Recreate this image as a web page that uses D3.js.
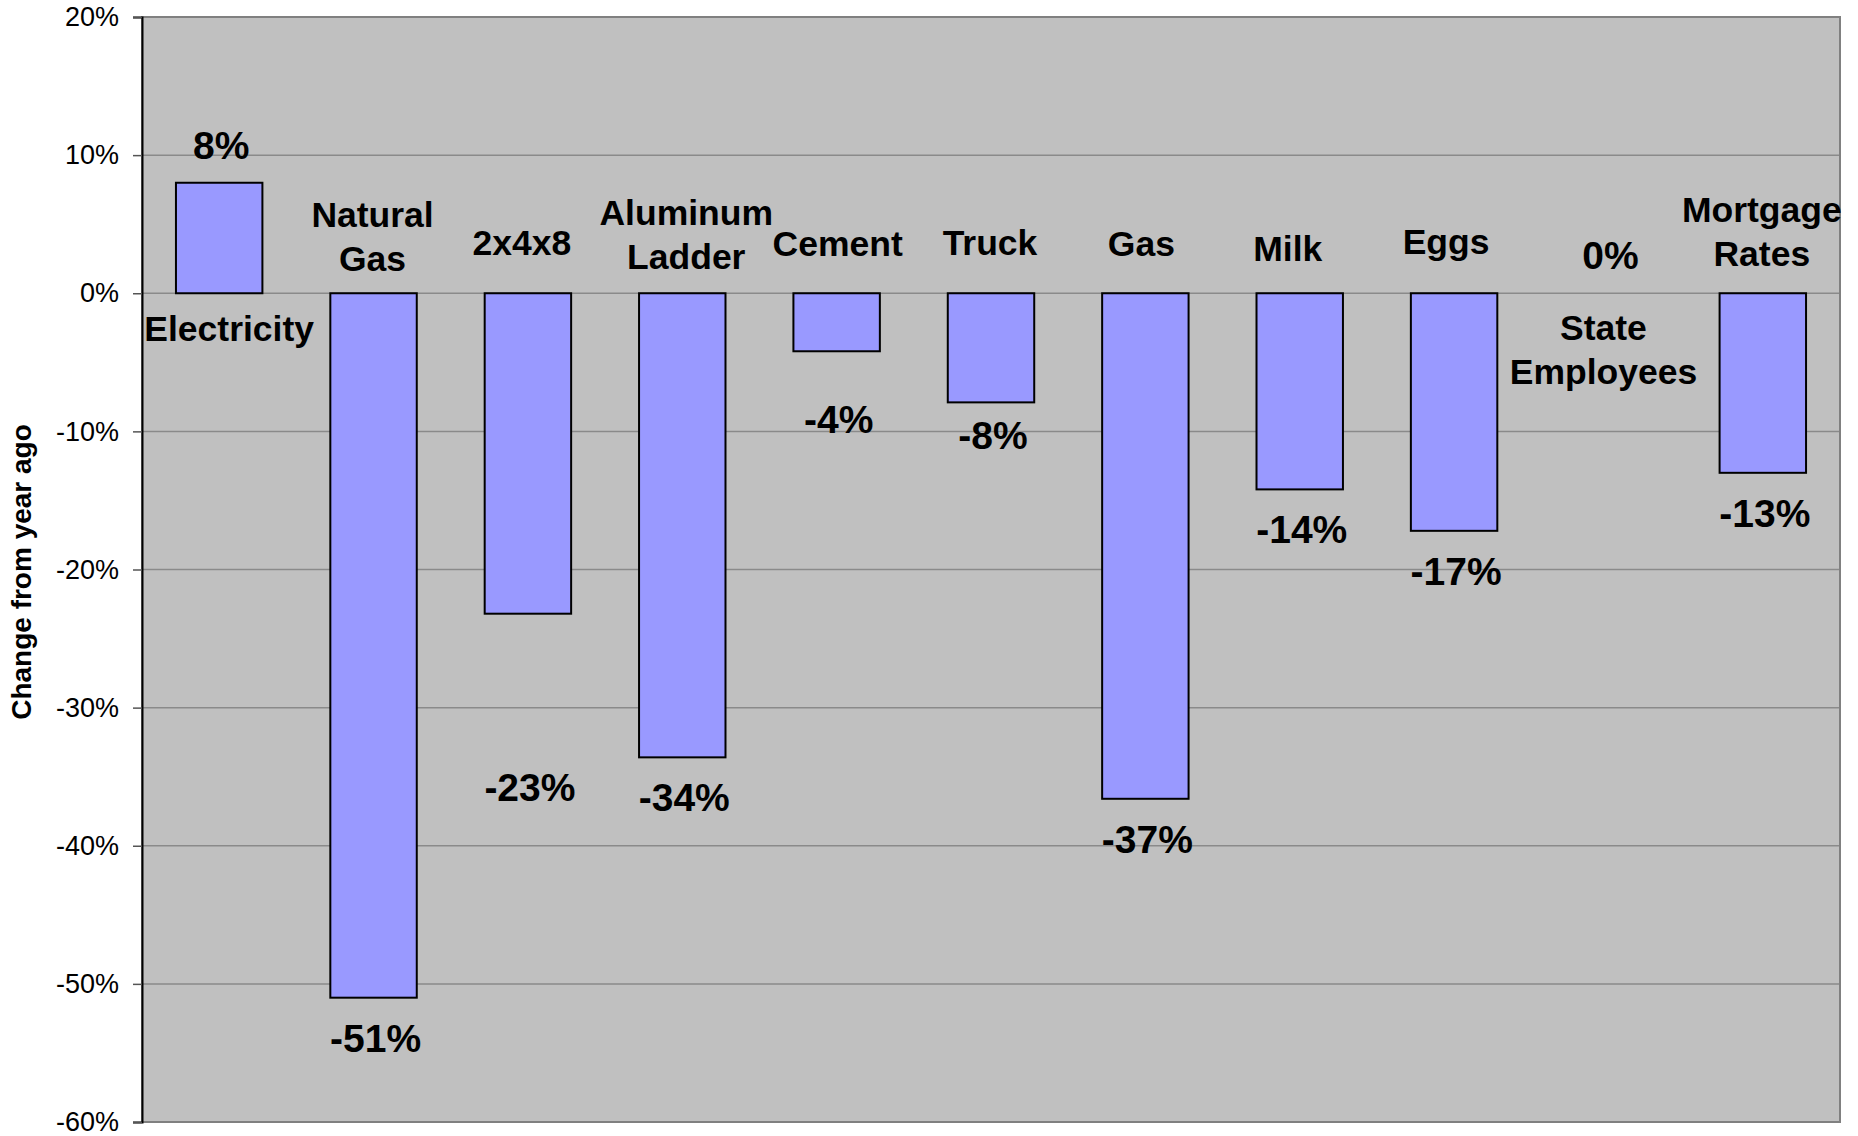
<!DOCTYPE html>
<html>
<head>
<meta charset="utf-8">
<script src="https://cdn.jsdelivr.net/npm/d3@7"></script>
<style>
  html, body { margin: 0; padding: 0; background: #ffffff; }
  svg { display: block; }
  text { font-family: "Liberation Sans", Arial, sans-serif; fill: #000; }
</style>
</head>
<body>
<svg id="chart" width="1858" height="1136"></svg>
<script>
// ---- data ----
const categories = ["Electricity", "Natural\nGas", "2x4x8", "Aluminum\nLadder", "Cement", "Truck", "Gas", "Milk", "Eggs", "State\nEmployees", "Mortgage\nRates"];
const values = [8, -51, -23.2, -33.6, -4.2, -7.9, -36.6, -14.2, -17.2, 0, -13];
const yTicks = [20, 10, 0, -10, -20, -30, -40, -50, -60];
const yTitle = "Change from year ago";

// ---- layout ----
const W = 1858, H = 1136;
const plot = { left: 142, right: 1840, top: 17, bottom: 1122 };
// label nudges (Excel manual placement)
const catDx   = [10, -1, -6, 4, 1, -1, -4, -12, -8, -5, -1];
const catBase = [48, -22, -38, -24, -37, -38, -37, -32, -39, 47, -27]; // baseline offset from zero line
const valDyOverride = { 2: 187, 4: 82, 5: 47 };
const lineGap = 44;

const svg = d3.select("#chart");

const x = d3.scaleBand().domain(categories).range([plot.left, plot.right])
  .paddingInner(0.44).paddingOuter(0.22);
const y = d3.scaleLinear().domain([-60, 20]).range([plot.bottom, plot.top]);

// plot background
svg.append("rect")
  .attr("x", plot.left).attr("y", plot.top)
  .attr("width", plot.right - plot.left).attr("height", plot.bottom - plot.top)
  .attr("fill", "#c0c0c0");

// gridlines
svg.append("g").selectAll("line").data(yTicks).join("line")
  .attr("x1", plot.left).attr("x2", plot.right)
  .attr("y1", d => y(d)).attr("y2", d => y(d))
  .attr("stroke", "#8a8a8a").attr("stroke-width", 1.5);

// plot border (grey)
svg.append("rect")
  .attr("x", plot.left).attr("y", plot.top)
  .attr("width", plot.right - plot.left).attr("height", plot.bottom - plot.top)
  .attr("fill", "none").attr("stroke", "#808080").attr("stroke-width", 2);

// y axis
const yAxis = d3.axisLeft(y).tickValues(yTicks).tickSize(9).tickPadding(14)
  .tickFormat(d => d + "%");
const gy = svg.append("g").attr("transform", `translate(${plot.left},0)`).call(yAxis);
gy.select(".domain").attr("stroke", "#000").attr("stroke-width", 2);
gy.selectAll(".tick line").attr("stroke", "#555").attr("stroke-width", 1.5);
gy.selectAll(".tick text")
  .style("font-family", '"Liberation Sans", Arial, sans-serif')
  .style("font-size", "27px").attr("fill", "#000");

// y title
svg.append("text")
  .attr("transform", `translate(31, 572) rotate(-90)`)
  .attr("text-anchor", "middle")
  .style("font-size", "28px").style("font-weight", "bold")
  .text(yTitle);

// bars
svg.append("g").selectAll("rect").data(values).join("rect")
  .attr("x", (d, i) => x(categories[i]))
  .attr("width", x.bandwidth())
  .attr("y", d => y(Math.max(0, d)))
  .attr("height", d => Math.abs(y(d) - y(0)))
  .attr("fill", "#9999ff")
  .attr("stroke", d => d === 0 ? "none" : "#000")
  .attr("stroke-width", 2);

// value labels
const fmt = d => String(Math.round(d)) + "%";
svg.append("g").selectAll("text").data(values).join("text")
  .attr("x", (d, i) => x(categories[i]) + x.bandwidth() / 2 + 2)
  .attr("y", (d, i) => {
    const dy = valDyOverride[i] !== undefined ? valDyOverride[i] : (d < 0 ? 54 : -24);
    return y(d) + dy;
  })
  .attr("text-anchor", "middle")
  .style("font-size", "39px").style("font-weight", "bold")
  .text(d => fmt(d));

// category labels
const cg = svg.append("g");
categories.forEach((c, i) => {
  const lines = c.split("\n");
  const cx = x(c) + x.bandwidth() / 2 + catDx[i];
  const base = y(0) + catBase[i];
  const below = catBase[i] > 0;
  const t = cg.append("text")
    .attr("text-anchor", "middle")
    .style("font-size", "35.5px").style("font-weight", "bold");
  lines.forEach((ln, k) => {
    const by = below ? base + k * lineGap : base - (lines.length - 1 - k) * lineGap;
    t.append("tspan").attr("x", cx).attr("y", by).text(ln);
  });
});
</script>
</body>
</html>
